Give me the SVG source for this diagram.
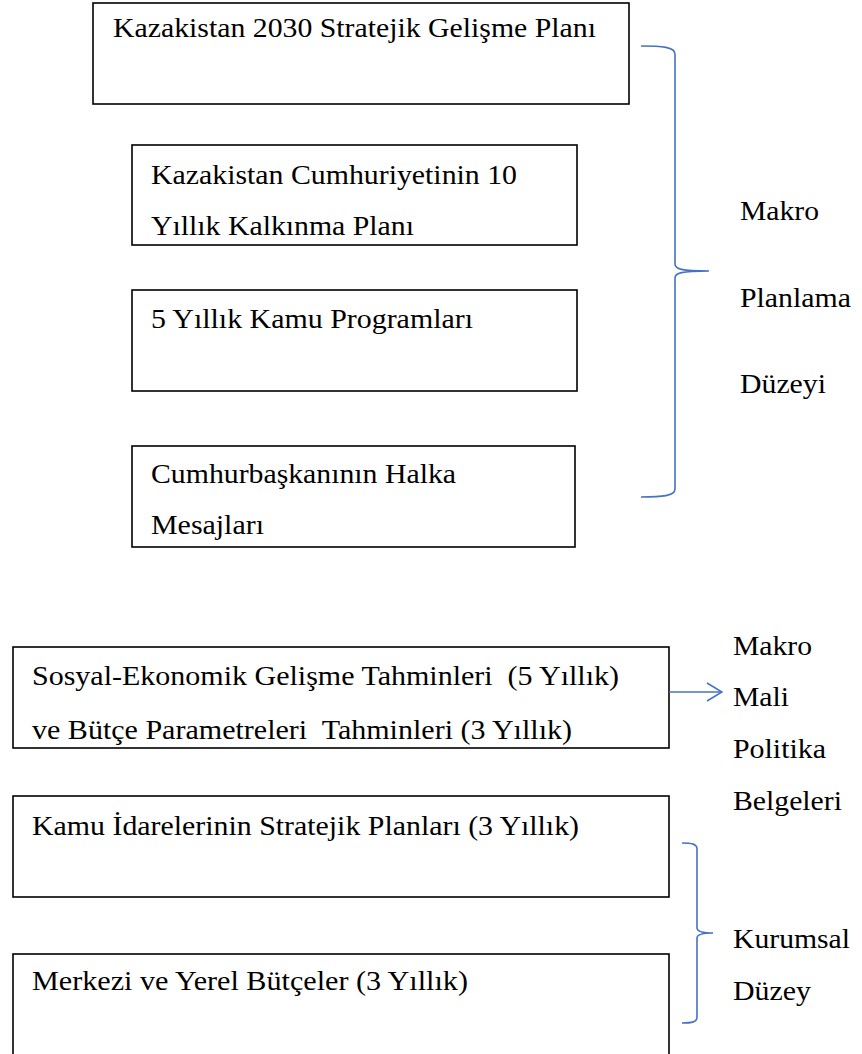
<svg xmlns="http://www.w3.org/2000/svg" width="862" height="1054" viewBox="0 0 862 1054">
  <style>
    .box { fill: #ffffff; stroke: #000000; stroke-width: 1.6; }
    .t { font-family: "Liberation Serif", "Times New Roman", serif; font-size: 27px; fill: #000000; }
    .brace { fill: none; stroke: #4472C4; stroke-width: 1.6; }
    .arrow { fill: none; stroke: #4472C4; stroke-width: 1.6; }
  </style>
  <defs>
    <marker id="openArrow" viewBox="0 0 17 20" refX="16" refY="10" markerWidth="17" markerHeight="20" markerUnits="userSpaceOnUse" orient="auto">
      <path d="M1,1 L16,10 L1,19" fill="none" stroke="#4472C4" stroke-width="1.6"/>
    </marker>
  </defs>
  <rect width="862" height="1054" fill="#ffffff"/>

  <g id="node-2030-plan">
    <rect class="box" x="93" y="3" width="536" height="101"/>
    <text class="t" x="113" y="37" textLength="483" lengthAdjust="spacingAndGlyphs">Kazakistan 2030 Stratejik Gelişme Planı</text>
  </g>
  <g id="node-10-yillik">
    <rect class="box" x="132" y="145" width="445" height="100"/>
    <text class="t" x="151" y="184" textLength="366" lengthAdjust="spacingAndGlyphs">Kazakistan Cumhuriyetinin 10</text>
    <text class="t" x="151" y="235" textLength="263" lengthAdjust="spacingAndGlyphs">Yıllık Kalkınma Planı</text>
  </g>
  <g id="node-kamu-programlari">
    <rect class="box" x="132" y="290" width="445" height="101"/>
    <text class="t" x="151" y="328" textLength="322" lengthAdjust="spacingAndGlyphs">5 Yıllık Kamu Programları</text>
  </g>
  <g id="node-mesajlar">
    <rect class="box" x="132" y="446" width="443" height="101"/>
    <text class="t" x="151" y="483" textLength="305" lengthAdjust="spacingAndGlyphs">Cumhurbaşkanının Halka</text>
    <text class="t" x="151" y="534" textLength="113" lengthAdjust="spacingAndGlyphs">Mesajları</text>
  </g>
  <g id="label-makro-planlama">
    <text class="t" x="740" y="220" textLength="79" lengthAdjust="spacingAndGlyphs">Makro</text>
    <text class="t" x="740" y="307" textLength="111" lengthAdjust="spacingAndGlyphs">Planlama</text>
    <text class="t" x="740" y="393" textLength="86" lengthAdjust="spacingAndGlyphs">Düzeyi</text>
  </g>

  <g id="node-tahminler">
    <rect class="box" x="13" y="647" width="656" height="101"/>
    <text class="t" x="32" y="685" xml:space="preserve" textLength="587" lengthAdjust="spacingAndGlyphs">Sosyal-Ekonomik Gelişme Tahminleri  (5 Yıllık)</text>
    <text class="t" x="32" y="739" xml:space="preserve" textLength="540" lengthAdjust="spacingAndGlyphs">ve Bütçe Parametreleri  Tahminleri (3 Yıllık)</text>
  </g>
  <g id="label-makro-mali">
    <text class="t" x="733" y="655" textLength="79" lengthAdjust="spacingAndGlyphs">Makro</text>
    <text class="t" x="733" y="706" textLength="56" lengthAdjust="spacingAndGlyphs">Mali</text>
    <text class="t" x="733" y="758" textLength="93" lengthAdjust="spacingAndGlyphs">Politika</text>
    <text class="t" x="733" y="810" textLength="109" lengthAdjust="spacingAndGlyphs">Belgeleri</text>
  </g>
  <g id="node-stratejik-planlar">
    <rect class="box" x="13" y="796" width="656" height="101"/>
    <text class="t" x="32" y="835" textLength="547" lengthAdjust="spacingAndGlyphs">Kamu İdarelerinin Stratejik Planları (3 Yıllık)</text>
  </g>
  <g id="node-butceler">
    <rect class="box" x="13" y="954" width="656" height="106"/>
    <text class="t" x="32" y="990" textLength="436" lengthAdjust="spacingAndGlyphs">Merkezi ve Yerel Bütçeler (3 Yıllık)</text>
  </g>
  <g id="label-kurumsal">
    <text class="t" x="733" y="948" textLength="117" lengthAdjust="spacingAndGlyphs">Kurumsal</text>
    <text class="t" x="733" y="1000" textLength="78" lengthAdjust="spacingAndGlyphs">Düzey</text>
  </g>

  <g id="connectors">
    <path class="brace" d="M641,46 C662,46 675,47 675,54 L675,264 C675,269 681,271 709,271 C681,271 675,273 675,278 L675,489 C675,496 662,497 641,497"/>
    <line class="arrow" x1="669" y1="692" x2="722" y2="692" marker-end="url(#openArrow)"/>
    <path class="brace" d="M682,843 C692,843 697,844 697,849 L697,928 C697,931 701,933 713,933 C701,933 697,935 697,938 L697,1017 C697,1022 692,1023 682,1023"/>
  </g>
</svg>
